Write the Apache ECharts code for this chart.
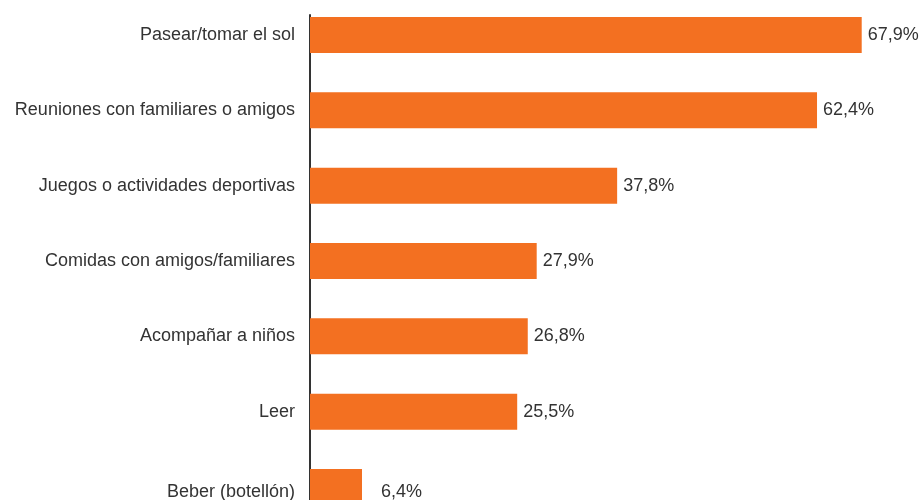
<!DOCTYPE html>
<html>
<head>
<meta charset="utf-8">
<script src="https://cdn.jsdelivr.net/npm/echarts@6/dist/echarts.min.js"></script>
<style>
html,body{margin:0;padding:0;background:#fff;}
#chart{width:923px;height:500px;}
</style>
</head>
<body>
<div id="chart"></div>
<script>
var categories = [
  'Pasear/tomar el sol',
  'Reuniones con familiares o amigos',
  'Juegos o actividades deportivas',
  'Comidas con amigos/familiares',
  'Acompañar a niños',
  'Leer',
  'Beber (botellón)'
];
var values = [67.9, 62.4, 37.8, 27.9, 26.8, 25.5, 6.4];

var BAR = '#F37021';
var TXT = '#333333';
var FONT = '"Liberation Sans", Arial, Helvetica, sans-serif';

var lastIdx = categories.length - 1;
var seriesData = values.map(function (v, i) {
  if (i === lastIdx) {
    return { value: v, label: { offset: [13, 5] } };
  }
  return v;
});

var chart = echarts.init(document.getElementById('chart'), null, { renderer: 'canvas' });
chart.setOption({
  animation: false,
  backgroundColor: '#fff',
  textStyle: { fontFamily: FONT },
  grid: [
    { left: 310, right: 3.6, top: -2.67, bottom: -24.67, containLabel: false, outerBoundsMode: 'none' },
    { left: 310, width: 0, top: 15, bottom: -30, containLabel: false, outerBoundsMode: 'none' }
  ],
  xAxis: [
    { gridIndex: 0, type: 'value', min: 0, max: 75, show: false },
    { gridIndex: 1, type: 'value', min: 0, max: 1, show: false }
  ],
  yAxis: [
    {
      gridIndex: 0,
      type: 'category',
      inverse: true,
      data: categories,
      axisLine: { show: false },
      axisTick: { show: false },
      splitLine: { show: false },
      axisLabel: {
        margin: 15,
        color: TXT,
        fontSize: 18,
        fontFamily: FONT,
        formatter: function (v, i) {
          return i === lastIdx ? '{low|' + v + '}' : v;
        },
        rich: {
          low: { padding: [10, 0, 0, 0], color: TXT, fontSize: 18, fontFamily: FONT }
        }
      }
    },
    {
      gridIndex: 1,
      type: 'value',
      min: 0,
      max: 1,
      axisLine: { show: true, lineStyle: { color: '#333333', width: 2 } },
      axisTick: { show: false },
      axisLabel: { show: false },
      splitLine: { show: false }
    }
  ],
  series: [
    {
      type: 'bar',
      xAxisIndex: 0,
      yAxisIndex: 0,
      data: seriesData,
      barWidth: 36,
      itemStyle: { color: BAR },
      label: {
        show: true,
        position: 'right',
        distance: 6,
        color: TXT,
        fontSize: 18,
        fontFamily: FONT,
        formatter: function (p) {
          return p.value.toFixed(1).replace('.', ',') + '%';
        }
      }
    }
  ]
});
</script>
</body>
</html>
